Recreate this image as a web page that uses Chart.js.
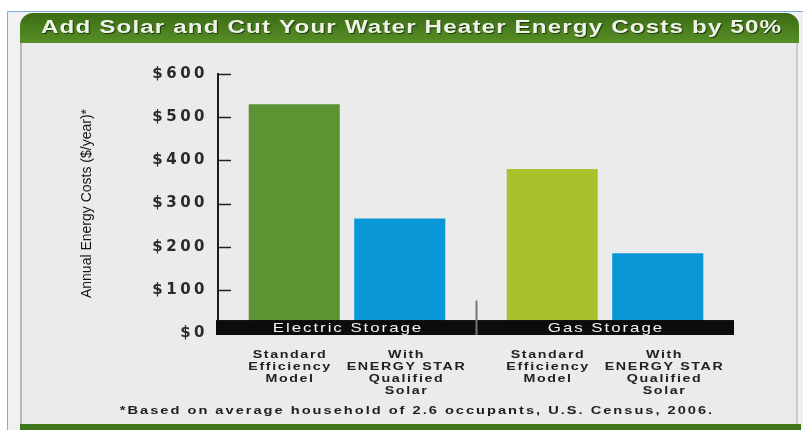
<!DOCTYPE html>
<html>
<head>
<meta charset="utf-8">
<title>Solar Water Heater Costs</title>
<script src="https://cdn.jsdelivr.net/npm/chart.js@4.4.1/dist/chart.umd.min.js"></script>
<style>
html, body { margin: 0; padding: 0; background: #fff; }
canvas { display: block; }
</style>
</head>
<body>
<canvas id="grafico" width="803" height="430"></canvas>
<script>
// values
const groups = ['Electric Storage', 'Gas Storage'];
const modelLabels = [['Standard', 'Efficiency', 'Model'], ['With', 'ENERGY STAR', 'Qualified', 'Solar']];
const standardCost = [530, 380];
const solarCost = [265, 185];
const yTicks = [0, 100, 200, 300, 400, 500, 600];
const title = 'Add Solar and Cut Your Water Heater Energy Costs by 50%';
const yTitle = 'Annual Energy Costs ($/year)*';
const footnote = '*Based on average household of 2.6 occupants, U.S. Census, 2006.';

// wide, spaced text centred on (x, y)
function drawWide(c, text, x, y, font, color, spacing, stretch) {
    c.save();
    c.font = font;
    c.fillStyle = color;
    c.letterSpacing = spacing + 'px';
    c.textAlign = 'center';
    c.textBaseline = 'middle';
    c.translate(x, y);
    c.scale(stretch, 1);
    c.fillText(text, spacing / 2, 0);
    c.restore();
}

const frame = {
    id: 'frame',
    beforeDraw(chart) {
        const c = chart.ctx;
        c.save();
        c.letterSpacing = '0px';
        c.fillStyle = '#ffffff';
        c.fillRect(0, 0, 803, 430);
        c.fillStyle = '#f1f1f4';
        c.fillRect(8, 12, 795, 418);
        c.strokeStyle = '#7fa9dc';
        c.lineWidth = 1;
        c.beginPath();
        c.moveTo(7.5, 430);
        c.lineTo(7.5, 11.5);
        c.lineTo(803, 11.5);
        c.stroke();

        // grey panel
        c.fillStyle = '#ebebeb';
        c.fillRect(20, 40, 778, 386);
        c.fillStyle = '#b8b8b8';
        c.fillRect(20, 40, 2, 386);
        c.fillStyle = '#cbcbcb';
        c.fillRect(796, 40, 2, 386);

        // green header
        const g = c.createLinearGradient(0, 13, 0, 43);
        g.addColorStop(0, '#3b6c15');
        g.addColorStop(1, '#578f26');
        c.fillStyle = g;
        c.beginPath();
        c.roundRect(20, 13, 779, 30, [13, 13, 0, 0]);
        c.fill();

        c.shadowColor = 'rgba(20, 45, 5, 0.9)';
        c.shadowOffsetX = 1;
        c.shadowOffsetY = 1;
        c.shadowBlur = 1;
        drawWide(c, title, 411, 28.5, 'bold 18px "Liberation Sans", Arial, sans-serif', '#eef3e6', 0.8, 1.35);
        c.shadowColor = 'transparent';

        // bottom strip
        c.fillStyle = '#3e7619';
        c.fillRect(20, 424, 781, 6);
        c.restore();
    },
    afterDatasetsDraw(chart) {
        const c = chart.ctx;
        const a = chart.chartArea;
        const x = chart.scales.x;
        const y = chart.scales.y;
        c.save();
        c.letterSpacing = '0px';

        // tick marks pointing into the plot
        c.strokeStyle = '#1f1f1f';
        c.lineWidth = 1.5;
        y.ticks.forEach(t => {
            if (t.value === 0) return;
            const py = Math.round(y.getPixelForValue(t.value)) + 0.5;
            c.beginPath();
            c.moveTo(a.left, py);
            c.lineTo(a.left + 13, py);
            c.stroke();
        });

        // black category band along the base
        const bandTop = y.getPixelForValue(30);
        const bandBottom = a.bottom + 2;
        c.fillStyle = '#0c0c0c';
        c.fillRect(a.left - 2, bandTop, a.right - a.left + 2, bandBottom - bandTop);

        // divider between the two groups
        const midX = Math.round(x.getPixelForValue(0.5)) + 0.5;
        c.strokeStyle = '#767676';
        c.lineWidth = 2;
        c.beginPath();
        c.moveTo(midX, y.getPixelForValue(75));
        c.lineTo(midX, bandBottom);
        c.stroke();

        groups.forEach((name, i) => {
            drawWide(c, name, x.getPixelForValue(i), (bandTop + bandBottom) / 2 + 0.5,
                '13px "Liberation Sans", Arial, sans-serif', '#f4f4f4', 1.5, 1.3);
        });

        // model names under each bar, nudged apart within a group
        const nudge = [-5, 6];
        chart.data.datasets.forEach((ds, di) => {
            chart.getDatasetMeta(di).data.forEach(bar => {
                modelLabels[di].forEach((line, li) => {
                    drawWide(c, line, bar.x + nudge[di], 355 + li * 12,
                        'bold 11.5px "Liberation Sans", Arial, sans-serif', '#222222', 1.3, 1.24);
                });
            });
        });

        drawWide(c, footnote, 416, 411, 'bold 11px "Liberation Sans", Arial, sans-serif', '#1e1e1e', 1.5, 1.33);
        c.restore();

        // y tick labels are drawn right after this hook
        c.letterSpacing = '3.5px';
    },
    afterDraw(chart) {
        chart.ctx.letterSpacing = '0px';
    }
};

const ctx = document.getElementById('grafico').getContext('2d');
new Chart(ctx, {
    type: 'bar',
    data: {
        labels: groups,
        datasets: [{
            label: 'Standard Efficiency Model',
            data: standardCost,
            backgroundColor: ['#5b9533', '#a8c22b']
        }, {
            label: 'With ENERGY STAR Qualified Solar',
            data: solarCost,
            backgroundColor: '#0997d8'
        }]
    },
    options: {
        responsive: false,
        devicePixelRatio: 1,
        animation: false,
        events: [],
        categoryPercentage: 0.818,
        barPercentage: 0.863,
        layout: { padding: { top: 74, right: 69, bottom: 97, left: 0 } },
        plugins: {
            legend: { display: false },
            tooltip: { enabled: false }
        },
        scales: {
            x: { display: false },
            y: {
                min: 0,
                max: 600,
                afterBuildTicks: scale => {
                    scale.ticks = yTicks.map(v => ({ value: v }));
                },
                afterFit: scale => {
                    scale.width = 218;
                },
                grid: { display: false },
                border: { display: true, color: '#1c1c1c', width: 2 },
                ticks: {
                    z: 1,
                    padding: 2,
                    color: '#2a2a2a',
                    font: { family: '"DejaVu Sans", sans-serif', weight: 'bold', size: 15 },
                    callback: v => '$' + v
                },
                title: {
                    display: true,
                    text: yTitle,
                    color: '#141414',
                    padding: { top: 79, bottom: 0 },
                    font: { family: '"Liberation Sans Narrow", "Arial Narrow", "Liberation Sans", sans-serif', size: 14 }
                }
            }
        }
    },
    plugins: [frame]
});
</script>
</body>
</html>
